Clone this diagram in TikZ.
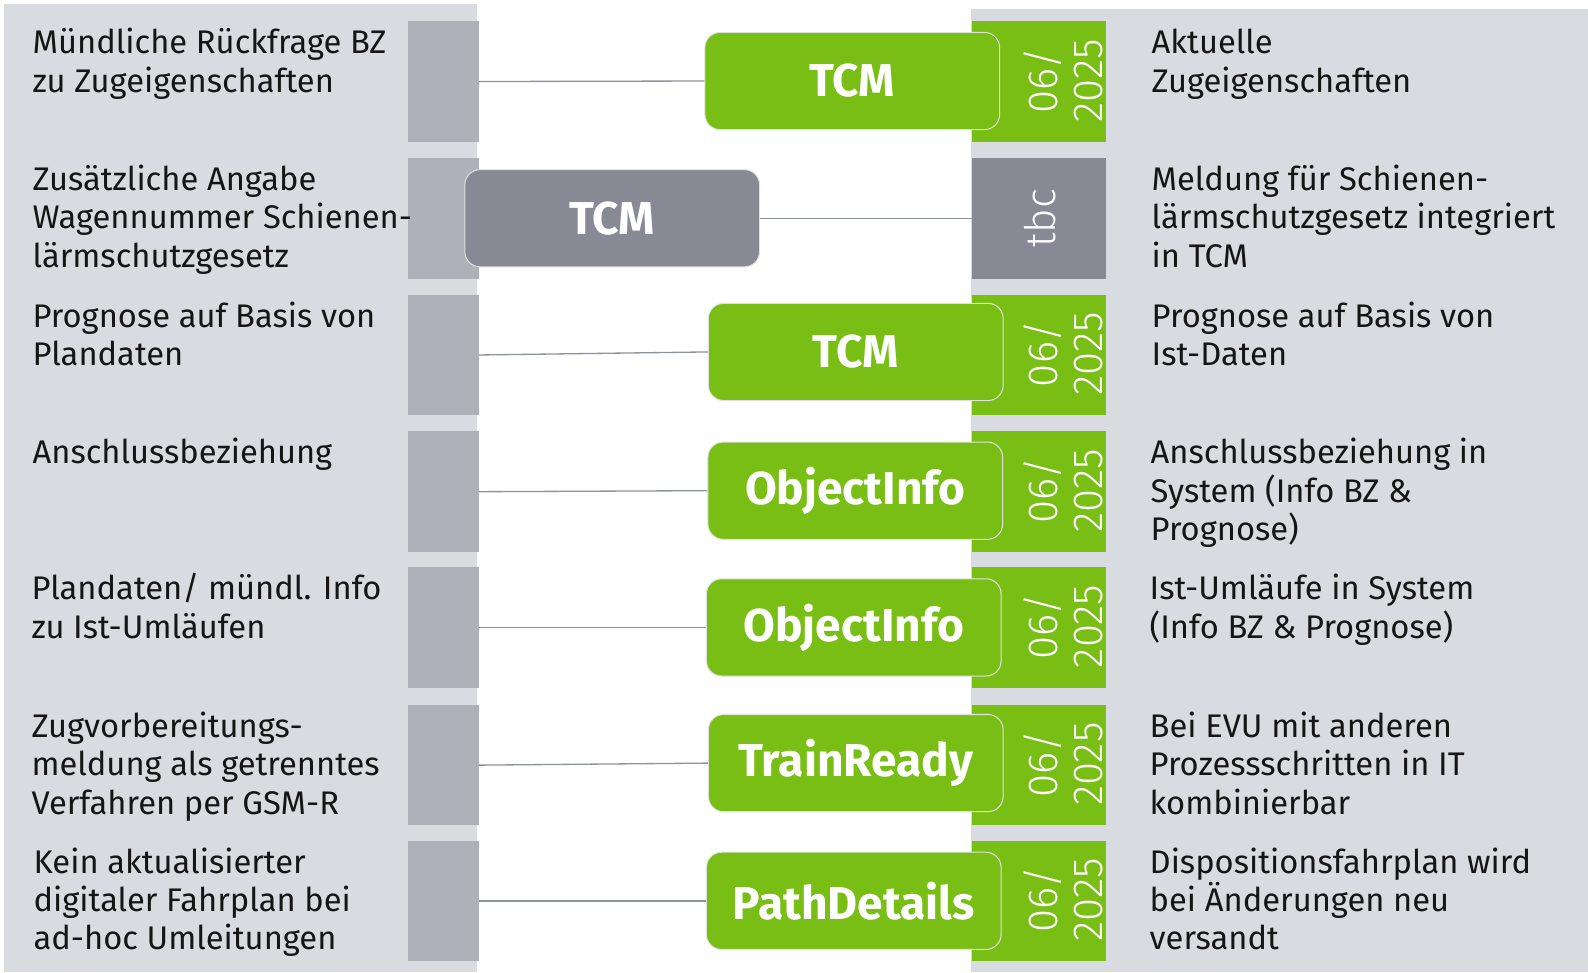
\documentclass[tikz,border=0pt]{standalone}
\usepackage{fontspec}
\setmainfont{Fira Sans}
\newfontfamily\datefont{Fira Sans Light}
\usetikzlibrary{calc}
\definecolor{panel}{HTML}{D8DCE0}
\definecolor{sq}{HTML}{AEB1B8}
\definecolor{dbgreen}{HTML}{78BE14}
\definecolor{dbgray}{HTML}{878A95}
\definecolor{linec}{HTML}{8E939C}
\definecolor{txt}{HTML}{151515}
\newcommand\desclines[1]{\vtop{\baselineskip=38pt\lineskiplimit=-100pt\lineskip=0pt\halign{##\hfil\cr#1\crcr}}}
\begin{document}
\begin{tikzpicture}[x=1pt,y=-1pt,
  desc/.style={anchor=base west, inner sep=0pt, text=txt,
    font=\fontsize{32.3}{38}\selectfont},
  sqbox/.style={fill=sq, minimum width=70pt, minimum height=119pt, inner sep=0pt},
  datebox/.style={fill=dbgreen, minimum width=132pt, minimum height=119pt, inner sep=0pt},
  tbcbox/.style={fill=dbgray, minimum width=132pt, minimum height=119pt, inner sep=0pt},
  datetxt/.style={rotate=90, align=center, text=white, inner sep=0pt,
    font=\datefont\fontsize{41.5}{44}\selectfont},
  sysnode/.style={fill=dbgreen, draw=white!88!black, line width=1pt, rounded corners=15pt,
    minimum width=291pt, minimum height=96pt, inner sep=0pt, text=white,
    font=\fontsize{45.5}{48}\selectfont\bfseries},
  sysgray/.style={sysnode, fill=dbgray},
  conn/.style={draw=linec, line width=1.3pt}
]
\useasboundingbox (0,0) rectangle (1568,959.8);
% panels
\fill[panel] (4,4) rectangle (471,960);
\fill[panel] (959,9) rectangle (1568,960);

% gray squares (left)
\node[sqbox] (s1) at (438,80.5) {};
\node[sqbox] (s2) at (438,215.5) {};
\node[sqbox] (s3) at (438,350.5) {};
\node[sqbox] (s4) at (438,485.5) {};
\node[sqbox] (s5) at (438,619.5) {};
\node[sqbox] (s6) at (438,755.5) {};
\node[sqbox] (s7) at (438,889.5) {};

% date boxes (right)
\node[datebox] (d1) at (1026,80.5) {};
\node[tbcbox]  (d2) at (1026,215.5) {};
\node[datebox] (d3) at (1026,350.5) {};
\node[datebox] (d4) at (1026,485.5) {};
\node[datebox] (d5) at (1026,619.5) {};
\node[datebox] (d6) at (1026,755.5) {};
\node[datebox] (d7) at (1026,889.5) {};

\node[datetxt] (t1) at ($(d1)+(24,-1)$) {06/\\2025};
\node[datetxt] (t2) at ($(d2)+(1,0)$) {tbc};
\node[datetxt] (t3) at ($(d3)+(24,-1)$) {06/\\2025};
\node[datetxt] (t4) at ($(d4)+(24,-1)$) {06/\\2025};
\node[datetxt] (t5) at ($(d5)+(24,-1)$) {06/\\2025};
\node[datetxt] (t6) at ($(d6)+(24,-1)$) {06/\\2025};
\node[datetxt] (t7) at ($(d7)+(24,-1)$) {06/\\2025};

% system nodes
\node[sysnode] (n1) at (841.5,80) {TCM};
\node[sysgray] (n2) at (604.5,215.5) {TCM};
\node[sysnode] (n3) at (845,347.5) {TCM};
\node[sysnode] (n4) at (844.5,484.5) {ObjectInfo};
\node[sysnode] (n5) at (843,619.5) {ObjectInfo};
\node[sysnode] (n6) at (845,753.5) {TrainReady};
\node[sysnode] (n7) at (843,889.5) {PathDetails};

% connectors
\draw[conn] (s1.east) -- (n1.west);
\draw[conn] (n2.east) -- (d2.west);
\draw[conn] (s3.east) -- (n3.west);
\draw[conn] (s4.east) -- (n4.west);
\draw[conn] (s5.east) -- (n5.west);
\draw[conn] (s6.east) -- (n6.west);
\draw[conn] (s7.east) -- (n7.west);

% left texts
\node[desc] (l1) at (32,53) {\desclines{Mündliche Rückfrage BZ\cr zu Zugeigenschaften}};
\node[desc] (l2) at (32,188) {\desclines{Zusätzliche Angabe\cr Wagennummer Schienen-\cr lärmschutzgesetz}};
\node[desc] (l3) at (32,323) {\desclines{Prognose auf Basis von\cr Plandaten}};
\node[desc] (l4) at (32,458) {\desclines{Anschlussbeziehung}};
\node[desc] (l5) at (31,592) {\desclines{Plandaten/ mündl. Info\cr zu Ist-Umläufen}};
\node[desc] (l6) at (31,728) {\desclines{Zugvorbereitungs-\cr meldung als getrenntes\cr Verfahren per GSM-R}};
\node[desc] (l7) at (33,862) {\desclines{Kein aktualisierter\cr digitaler Fahrplan bei\cr ad-hoc Umleitungen}};

% right texts
\node[desc] (r1) at (1137,53) {\desclines{Aktuelle\cr Zugeigenschaften}};
\node[desc] (r2) at (1137,188) {\desclines{Meldung für Schienen-\cr lärmschutzgesetz integriert\cr in TCM}};
\node[desc] (r3) at (1137,323) {\desclines{Prognose auf Basis von\cr Ist-Daten}};
\node[desc] (r4) at (1136,458) {\desclines{Anschlussbeziehung in\cr System (Info BZ \&\cr Prognose)}};
\node[desc] (r5) at (1135,592) {\desclines{Ist-Umläufe in System\cr (Info BZ \& Prognose)}};
\node[desc] (r6) at (1135,728) {\desclines{Bei EVU mit anderen\cr Prozessschritten in IT\cr kombinierbar}};
\node[desc] (r7) at (1135,862) {\desclines{Dispositionsfahrplan wird\cr bei Änderungen neu\cr versandt}};
\end{tikzpicture}
\end{document}
